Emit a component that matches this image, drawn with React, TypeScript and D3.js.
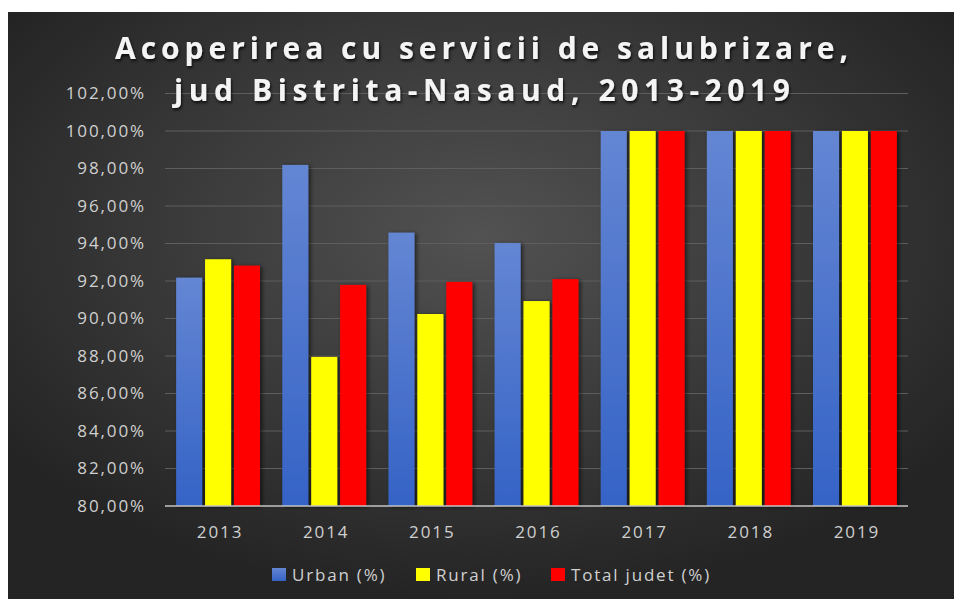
import { useEffect, useRef } from "react";
import * as d3 from "d3";

const years = ["2013", "2014", "2015", "2016", "2017", "2018", "2019"];
const seriesNames = ["Urban (%)", "Rural (%)", "Total judet (%)"];
const urban = [92.18, 98.19, 94.58, 94.03, 100, 100, 100];
const rural = [93.16, 87.95, 90.24, 90.93, 100, 100, 100];
const total = [92.82, 91.79, 91.95, 92.1, 100, 100, 100];
const yTicks = [80, 82, 84, 86, 88, 90, 92, 94, 96, 98, 100, 102];
const titleLines = ["Acoperirea cu servicii de salubrizare,", "jud Bistrita-Nasaud, 2013-2019"];

export default function App() {
    const ref = useRef<SVGSVGElement | null>(null);

    useEffect(() => {
        const svg = d3.select(ref.current);
        svg.selectAll("*").remove();

        const width = 955;
        const height = 599;
        const margin = { top: 93.5, right: 47, bottom: 93, left: 165 };
        const font = "'Open Sans', sans-serif";

        // gradients + shadow
        const defs = svg.append("defs");
        const bg = defs.append("radialGradient")
            .attr("id", "bg")
            .attr("cx", "50%").attr("cy", "38%").attr("r", "62%");
        bg.append("stop").attr("offset", "0%").attr("stop-color", "#525252");
        bg.append("stop").attr("offset", "100%").attr("stop-color", "#242424");

        const blue = defs.append("linearGradient")
            .attr("id", "blueGrad")
            .attr("x1", 0).attr("y1", 0).attr("x2", 0).attr("y2", 1);
        blue.append("stop").attr("offset", "0%").attr("stop-color", "#6486d3");
        blue.append("stop").attr("offset", "100%").attr("stop-color", "#3563c6");

        const shadow = defs.append("filter")
            .attr("id", "shadow")
            .attr("x", "-30%").attr("y", "-10%").attr("width", "160%").attr("height", "120%");
        shadow.append("feDropShadow")
            .attr("dx", 2).attr("dy", 1).attr("stdDeviation", 2)
            .attr("flood-color", "#000").attr("flood-opacity", 0.6);

        const tshadow = defs.append("filter")
            .attr("id", "tshadow")
            .attr("x", "-5%").attr("y", "-20%").attr("width", "110%").attr("height", "150%");
        tshadow.append("feDropShadow")
            .attr("dx", 1).attr("dy", 2).attr("stdDeviation", 1.5)
            .attr("flood-color", "#000").attr("flood-opacity", 0.8);

        svg.append("rect")
            .attr("width", width).attr("height", height).attr("fill", "#fff");
        svg.append("rect")
            .attr("x", 8).attr("y", 12)
            .attr("width", 946).attr("height", 587)
            .attr("fill", "url(#bg)");

        const xScale = d3.scaleBand()
            .domain(years)
            .range([margin.left, width - margin.right])
            .paddingInner(0.21)
            .paddingOuter(0.105);

        const xInner = d3.scaleBand()
            .domain(seriesNames)
            .range([0, xScale.bandwidth()])
            .paddingInner(0.1);

        const yScale = d3.scaleLinear()
            .domain([80, 102])
            .range([height - margin.bottom, margin.top]);

        // gridlines
        svg.append("g")
            .selectAll("line")
            .data(yTicks.slice(1))
            .join("line")
            .attr("x1", margin.left)
            .attr("x2", width - margin.right)
            .attr("y1", d => yScale(d))
            .attr("y2", d => yScale(d))
            .attr("stroke", "#5e5e5e")
            .attr("stroke-width", 1);

        // y labels
        svg.append("g")
            .selectAll("text")
            .data(yTicks)
            .join("text")
            .attr("x", 146)
            .attr("y", d => yScale(d))
            .attr("dy", "0.35em")
            .attr("text-anchor", "end")
            .style("font-family", font)
            .style("font-size", "17px")
            .style("letter-spacing", "1.9px")
            .style("fill", "#d0d0d0")
            .text(d => d.toFixed(2).replace(".", ",") + "%");

        // bars
        const colors = ["url(#blueGrad)", "#ffff00", "#ff0000"];
        const data = [urban, rural, total];
        const groups = svg.append("g")
            .selectAll("g")
            .data(years)
            .join("g")
            .attr("transform", d => `translate(${xScale(d)},0)`);

        groups.selectAll("rect")
            .data((d, i) => seriesNames.map((s, k) => ({ s, v: data[k][i], c: colors[k] })))
            .join("rect")
            .attr("x", d => xInner(d.s)!)
            .attr("width", xInner.bandwidth())
            .attr("y", d => yScale(d.v))
            .attr("height", d => yScale(80) - yScale(d.v))
            .attr("fill", d => d.c)
            .attr("filter", "url(#shadow)");

        // baseline
        svg.append("line")
            .attr("x1", margin.left)
            .attr("x2", width - margin.right)
            .attr("y1", yScale(80))
            .attr("y2", yScale(80))
            .attr("stroke", "#c4c4c4")
            .attr("stroke-width", 1.5);

        // x labels
        svg.append("g")
            .selectAll("text")
            .data(years)
            .join("text")
            .attr("x", d => xScale(d)! + xScale.bandwidth() / 2 + 2)
            .attr("y", 538)
            .attr("text-anchor", "middle")
            .style("font-family", font)
            .style("font-size", "17px")
            .style("letter-spacing", "1.9px")
            .style("fill", "#d0d0d0")
            .text(d => d);

        // title
        const titleX = [115, 174];
        const titleW = [733, 616];
        const titleY = [59, 101];
        svg.append("g")
            .selectAll("text")
            .data(titleLines)
            .join("text")
            .attr("x", (d, i) => titleX[i])
            .attr("y", (d, i) => titleY[i])
            .attr("textLength", (d, i) => titleW[i])
            .attr("lengthAdjust", "spacing")
            .attr("filter", "url(#tshadow)")
            .style("font-family", font)
            .style("font-size", "30px")
            .style("font-weight", "bold")
            .style("fill", "#f4f4f4")
            .text(d => d);

        // legend
        const legendX = [272, 416, 551];
        const legend = svg.append("g")
            .selectAll("g")
            .data(seriesNames)
            .join("g")
            .attr("transform", (d, i) => `translate(${legendX[i]},575)`);
        legend.append("rect")
            .attr("x", 0).attr("y", -7)
            .attr("width", 14).attr("height", 13)
            .attr("fill", (d, i) => colors[i]);
        legend.append("text")
            .attr("x", 20)
            .attr("dy", "0.35em")
            .style("font-family", font)
            .style("font-size", "17px")
            .style("letter-spacing", "1.8px")
            .style("fill", "#d0d0d0")
            .text(d => d);
    }, []);

    return (
        <svg ref={ref} width={955} height={599}
            style={{ position: "absolute", left: 0, top: 0, display: "block" }} />
    );
}
